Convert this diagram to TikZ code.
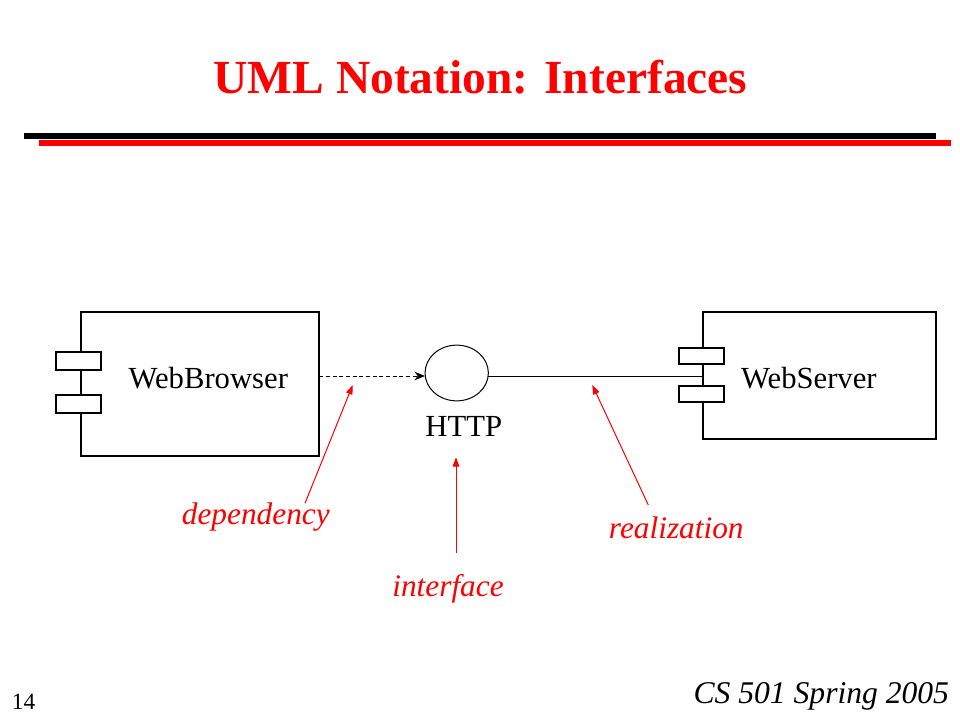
\documentclass[tikz,border=0pt]{standalone}
\usepackage{fontspec}
\setmainfont{Liberation Serif}
\usetikzlibrary{arrows.meta,shapes.geometric}
\definecolor{slidered}{RGB}{255,0,0}
\begin{document}
\begin{tikzpicture}[x=0.75pt,y=-0.75pt,
  compbox/.style={draw=black,line width=1.5pt,fill=white,inner sep=0pt,outer sep=0pt,anchor=center},
  iface/.style={draw=black,line width=0.75pt,ellipse,inner sep=0pt,outer sep=0pt},
  blacktext/.style={anchor=base,inner sep=0pt,font=\fontsize{23}{27}\selectfont},
  redlabel/.style={anchor=base,inner sep=0pt,text=slidered,font=\fontsize{23.5}{28}\selectfont\itshape},
  pointer/.style={draw=slidered,line width=0.75pt,-{Triangle[length=7pt,width=5pt]}},
  depline/.style={draw=black,line width=0.75pt,dashed,dash pattern=on 3pt off 2pt,-{Stealth[length=8pt,width=6.5pt]}},
  realline/.style={draw=black,line width=0.75pt}]
\useasboundingbox (0,0) rectangle (960,720);
\fill[white] (0,0) rectangle (960,720);
% title
\node[anchor=base,inner sep=0pt,text=slidered,font=\fontsize{35.6}{40}\selectfont\bfseries] (title) at (480.5,94) {UML Notation: Interfaces};
\fill[black] (24,133.3) rectangle (936,139);
\fill[slidered] (39.3,140) rectangle (950.7,146);
% WebBrowser component
\node[compbox,minimum width=179pt,minimum height=108pt] (wb) at (200,383.7) {};
\node[compbox,minimum width=34pt,minimum height=13.5pt] (wbp1) at (78.3,360.7) {};
\node[compbox,minimum width=34pt,minimum height=13.5pt] (wbp2) at (78.3,404) {};
\node[blacktext] (wbt) at (208.3,388) {WebBrowser};
% WebServer component
\node[compbox,minimum width=174.5pt,minimum height=95.7pt] (ws) at (819.7,375.5) {};
\node[compbox,minimum width=33.3pt,minimum height=12.2pt] (wsp1) at (701.5,355.8) {};
\node[compbox,minimum width=33.3pt,minimum height=12pt] (wsp2) at (701.5,393.7) {};
\node[blacktext] (wst) at (808.9,388) {WebServer};
% interface
\node[iface,minimum width=47.5pt,minimum height=41.8pt] (http) at (456.7,373) {};
\node[blacktext] (httpt) at (463.8,436.7) {HTTP};
% connectors
\draw[depline] (wb.east |- 0,376) -- (http.west |- 0,376);
\draw[realline] (http.east |- 0,376) -- (ws.west |- 0,376);
% red labels
\node[redlabel] (dep) at (255.8,524) {dependency};
\node[redlabel] (itf) at (448,596) {interface};
\node[redlabel] (real) at (676.3,538.3) {realization};
\coordinate (deptail) at (305,503.3);
\coordinate (deptip) at (352.7,385);
\coordinate (itftail) at (456,552.7);
\coordinate (itftip) at (456,457.3);
\coordinate (realtail) at (648.3,505);
\coordinate (realtip) at (592.3,385);
\draw[pointer] (deptail) -- (deptip);
\draw[pointer] (itftail) -- (itftip);
\draw[pointer] (realtail) -- (realtip);
% footer
\node[anchor=base west,inner sep=0pt,font=\fontsize{17.5}{21}\selectfont] (pg) at (11.7,709) {14};
\node[anchor=base east,inner sep=0pt,font=\fontsize{23.7}{28}\selectfont\itshape] (course) at (949.3,703.3) {CS 501 Spring 2005};
\end{tikzpicture}
\end{document}
